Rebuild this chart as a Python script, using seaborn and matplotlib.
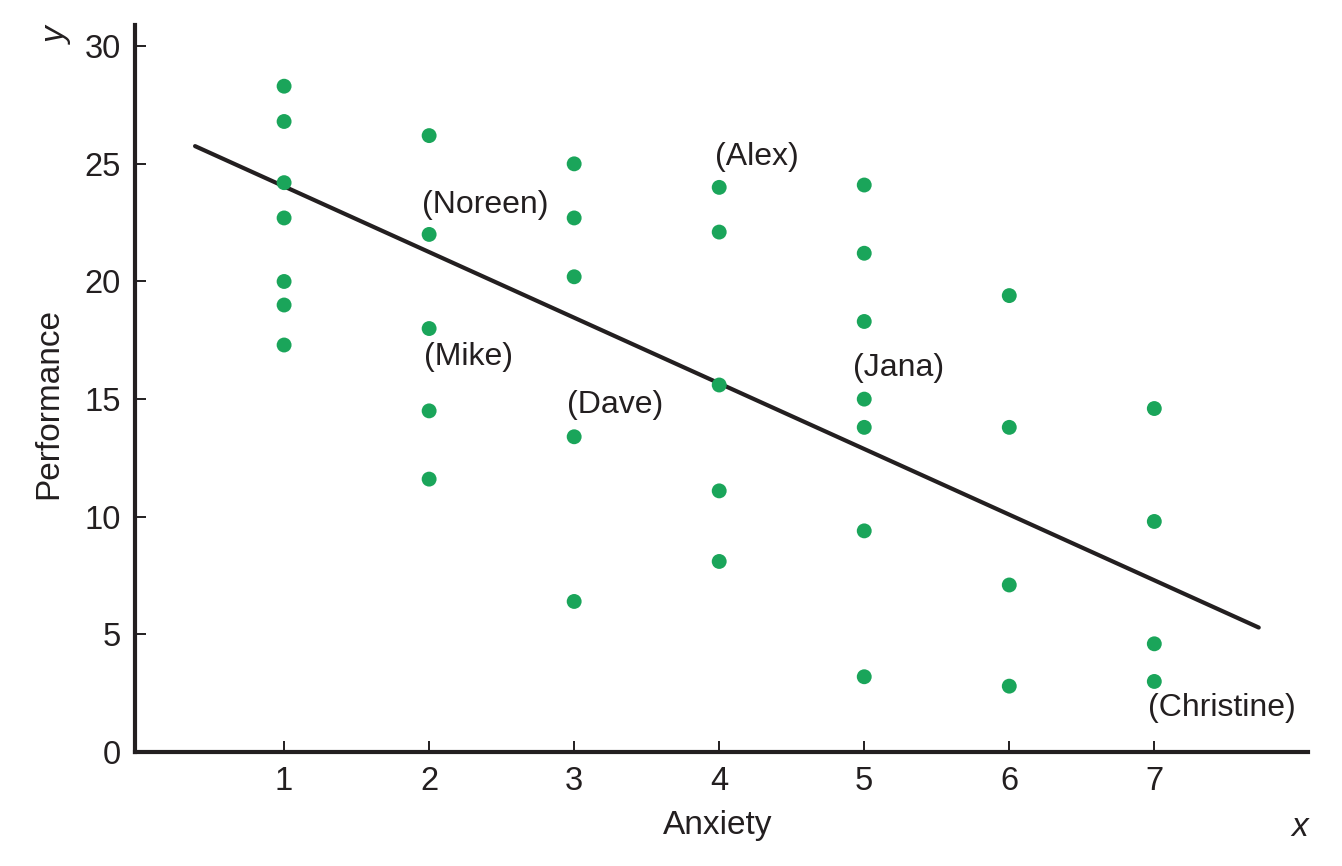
import matplotlib
matplotlib.use("Agg")
import matplotlib.pyplot as plt
import numpy as np
import pandas as pd
import seaborn as sns

# Anxiety level (x) and performance score (y) for every dot
anxiety = [1, 1, 1, 1, 1, 1, 1,
           2, 2, 2, 2, 2,
           3, 3, 3, 3, 3,
           4, 4, 4, 4, 4,
           5, 5, 5, 5, 5, 5, 5,
           6, 6, 6, 6,
           7, 7, 7, 7]
performance = [28.3, 26.8, 24.2, 22.7, 20.0, 19.0, 17.3,
               26.2, 22.0, 18.0, 14.5, 11.6,
               25.0, 22.7, 20.2, 13.4, 6.4,
               24.0, 22.1, 15.6, 11.1, 8.1,
               24.1, 21.2, 18.3, 15.0, 13.8, 9.4, 3.2,
               19.4, 13.8, 7.1, 2.8,
               14.6, 9.8, 4.6, 3.0]

# fitted line as drawn
line_slope = -2.79
line_intercept = 26.83
line_x = [0.386, 7.72]

# name annotations
names = ["(Noreen)", "(Mike)", "(Dave)", "(Alex)", "(Jana)", "(Christine)"]
name_x = [1.952, 1.966, 2.952, 3.972, 4.924, 6.959]
name_y = [23.25, 16.79, 14.75, 25.29, 16.32, 1.87]

x_ticks = [1, 2, 3, 4, 5, 6, 7]
y_ticks = [0, 5, 10, 15, 20, 25, 30]

sns.set_style("white")
plt.rcParams['font.family'] = ['Liberation Sans', 'DejaVu Sans']

df = pd.DataFrame({"Anxiety": anxiety, "Performance": performance})
line_df = pd.DataFrame({"x": line_x})
line_df["y"] = line_intercept + line_slope * line_df["x"]

fig = plt.figure(figsize=(13.42, 8.66), dpi=100)
ax = fig.add_axes([0.1006, 0.1316, 0.8741, 0.8395])

sns.lineplot(data=line_df, x="x", y="y", ax=ax, color="#231f20", linewidth=3)
sns.scatterplot(data=df, x="Anxiety", y="Performance", ax=ax,
                color="#1aa55a", s=115, edgecolor="none", zorder=3)

for n, tx, ty in zip(names, name_x, name_y):
    ax.text(tx, ty, n, ha="left", va="center", fontsize=23, color="#231f20")

ax.set_xlim(-0.028, 8.06)
ax.set_ylim(0, 30.9)
ax.set_xticks(x_ticks)
ax.set_yticks(y_ticks)

for side in ["top", "right"]:
    ax.spines[side].set_visible(False)
for side in ["left", "bottom"]:
    ax.spines[side].set_linewidth(3)
    ax.spines[side].set_color("#231f20")

ax.tick_params(axis="both", direction="in", length=8, width=1.4,
               bottom=True, left=True,
               color="#231f20", labelsize=23.5, labelcolor="#231f20", pad=10)

ax.set_xlabel("Anxiety", fontsize=24, color="#231f20")
ax.set_ylabel("Performance", fontsize=24, color="#231f20")
ax.xaxis.set_label_coords(0.497, -0.08)
ax.yaxis.set_label_coords(-0.06, 0.479)

fig.text(57 / 1342, 1 - 36 / 866, "y", fontsize=24, style="italic",
         rotation=90, ha="center", va="center", color="#231f20")
fig.text(1300 / 1342, 1 - 828 / 866, "x", fontsize=24, style="italic",
         ha="center", va="center", color="#231f20")

fig.savefig("out.png", dpi=100)
